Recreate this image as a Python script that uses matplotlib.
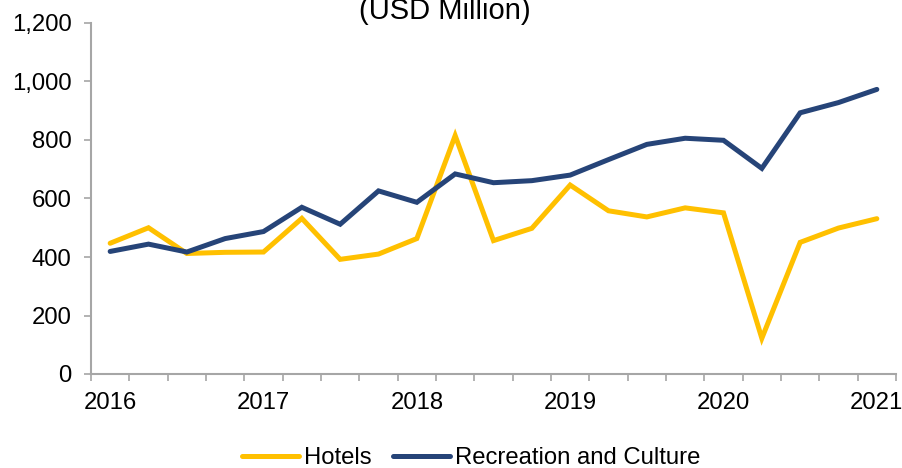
import matplotlib
matplotlib.use("Agg")
import matplotlib.pyplot as plt
import numpy as np

plt.rcParams['font.family'] = ['Liberation Sans', 'DejaVu Sans']

quarters = [f"{y}Q{q}" for y in range(2016, 2022) for q in range(1, 5)][:21]
hotels = [447, 500, 412, 416, 417, 532, 392, 410, 463, 815, 456, 498,
          646, 558, 537, 568, 551, 122, 450, 499, 531]
recreation = [419, 444, 417, 463, 487, 570, 512, 626, 587, 684, 654, 661,
              680, 733, 785, 806, 799, 703, 893, 928, 973]
year_labels = ["2016", "2017", "2018", "2019", "2020", "2021"]

W, H = 902, 468
fig = plt.figure(figsize=(W / 100, H / 100), dpi=100)
left, right, bottom, top = 91, 896, 374, 23
ax = fig.add_axes([left / W, 1 - bottom / H, (right - left) / W, (bottom - top) / H])

x = np.arange(len(quarters))
ax.plot(x, hotels, color='#FFC000', lw=3.6, label='Hotels', solid_joinstyle='miter',
        solid_capstyle='round')
ax.plot(x, recreation, color='#264478', lw=3.6, label='Recreation and Culture',
        solid_joinstyle='miter', solid_capstyle='round')

ax.set_xlim(-0.5, len(quarters) - 0.5)
ax.set_ylim(0, 1200)
ax.set_yticks(np.arange(0, 1201, 200))
ax.set_yticklabels([f"{v:,}" for v in range(0, 1201, 200)])

ax.set_xticks(x[::4])
ax.set_xticklabels(year_labels)
ax.set_xticks(np.arange(-0.5, len(quarters), 1.0), minor=True)
ax.tick_params(axis='x', which='major', length=0, pad=13)
ax.tick_params(axis='x', which='minor', length=5, width=1.2, color='#A6A6A6', direction='out')
ax.tick_params(axis='y', length=5, width=1.2, color='#A6A6A6', direction='out', pad=9)
ax.tick_params(labelsize=17.2, labelcolor='black')

for s in ['top', 'right']:
    ax.spines[s].set_visible(False)
for s in ['left', 'bottom']:
    ax.spines[s].set_color('#A6A6A6')
    ax.spines[s].set_linewidth(1.5)

fig.text(445 / W, 1 - 19 / H, "(USD Million)", ha='center', va='baseline', fontsize=21)

fig.legend(loc='center', bbox_to_anchor=(471 / W, 1 - 458 / H), ncol=2, frameon=False,
           fontsize=17.2, handlelength=2.4, columnspacing=0.9, handletextpad=0.2)

fig.savefig("out.png", dpi=100)
